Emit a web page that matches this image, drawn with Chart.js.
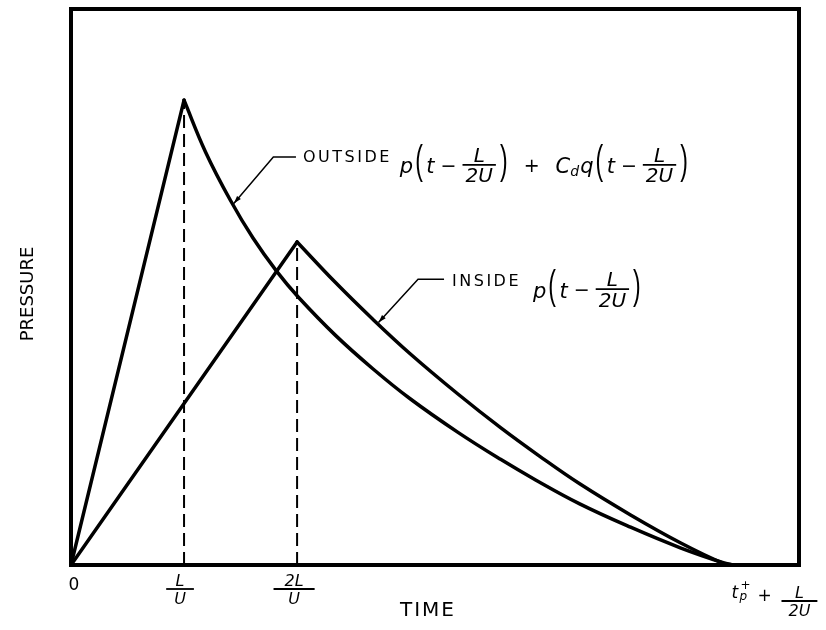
<!DOCTYPE html>
<html>
<head>
<meta charset="utf-8">
<script src="https://cdn.jsdelivr.net/npm/chart.js@4"></script>
<style>
  html, body { margin: 0; padding: 0; background: #fff; }
</style>
</head>
<body>
<canvas id="myChart" width="826" height="630"></canvas>
<script>
// time in units of L/U, pressure in percent of the frame height
const outsideX = [0, 1, 1.19, 1.41, 1.61, 1.82, 2.01, 2.34, 2.67, 3.0, 3.42, 3.80, 4.11, 4.50, 4.95, 5.39, 5.77, 5.86];
const outsideY = [0, 83.6, 74.3, 65.6, 58.8, 52.8, 48.2, 41.3, 35.3, 29.9, 23.9, 19.0, 15.3, 11.0, 6.8, 3.1, 0.4, 0];
const insideX = [0, 2.0, 2.34, 2.67, 3.0, 3.42, 3.80, 4.15, 4.50, 4.95, 5.39, 5.77, 5.86];
const insideY = [0, 58.1, 50.8, 44.2, 38.0, 30.8, 24.7, 19.5, 14.6, 9.0, 4.0, 0.3, 0];
const outsidePeak = 1; // index of the peak
const insidePeak = 1;

const xMax = 6.44;
const yMax = 100;
const tickValues = [0, 1, 2, 5.86];
const tickLabels = ['0', ['L', 'U'], ['2L', 'U'], ['t', 'L', '2U']];

// leader lines: tip on the curve, knee, end near the text
const outsideLeader = [[1.44, 65.0], [1.79, 73.4], [1.99, 73.4]];
const insideLeader = [[2.72, 43.6], [3.07, 51.4], [3.30, 51.4]];

const FONT = '"DejaVu Sans", sans-serif';

function pts(xs, ys, from, to) {
    let out = [];
    for (let i = from; i <= to; i++) out.push({x: xs[i], y: ys[i]});
    return out;
}

function curve(data, smooth) {
    return {
        data: data,
        showLine: true,
        borderColor: '#000',
        borderWidth: 3.5,
        borderCapStyle: 'round',
        borderJoinStyle: 'round',
        pointRadius: 0,
        tension: smooth ? 0.4 : 0
    };
}

function dashLine(xv, top) {
    return {
        data: [{x: xv, y: 0}, {x: xv, y: top}],
        showLine: true,
        borderColor: '#000',
        borderWidth: 2,
        borderDash: [13, 6],
        pointRadius: 0
    };
}

function fracWidth(ctx, num, den, size, pad) {
    ctx.font = `italic ${size}px ${FONT}`;
    return Math.max(ctx.measureText(num).width, ctx.measureText(den).width) + pad * 2;
}

function drawFrac(ctx, num, den, cx, barY, size, pad) {
    let w = fracWidth(ctx, num, den, size, pad);
    ctx.lineWidth = 1.8;
    ctx.beginPath();
    ctx.moveTo(cx - w / 2, barY);
    ctx.lineTo(cx + w / 2, barY);
    ctx.stroke();
    ctx.textAlign = 'center';
    ctx.textBaseline = 'alphabetic';
    ctx.fillText(num, cx, barY - 3);
    ctx.fillText(den, cx, barY + 3 + size * 0.73);
    return w;
}

// items: strings are italic letters, arrays are fractions, numbers are gaps,
// '(' ')' are tall parentheses, '_x' is a subscript, '+' '-' are operators
function drawMath(ctx, items, x, axis, size) {
    for (const it of items) {
        ctx.textAlign = 'left';
        ctx.textBaseline = 'alphabetic';
        if (typeof it === 'number') {
            x += it;
        } else if (Array.isArray(it)) {
            let w = fracWidth(ctx, it[0], it[1], size - 1, 3);
            drawFrac(ctx, it[0], it[1], x + w / 2, axis, size - 1, 3);
            x += w;
        } else if (it === '(' || it === ')') {
            ctx.save();
            ctx.font = `${Math.round(size * 1.1)}px "Liberation Sans", sans-serif`;
            ctx.translate(x, axis - 2);
            ctx.scale(1, 1.8);
            ctx.textBaseline = 'middle';
            ctx.fillText(it, 0, 0);
            ctx.restore();
            x += ctx.measureText(it).width;
        } else if (it === '+' || it === '-') {
            ctx.font = `${size - 2}px ${FONT}`;
            let s = it === '-' ? '\u2212' : '+';
            ctx.fillText(s, x, axis + size * 0.33);
            x += ctx.measureText(s).width;
        } else if (it.startsWith('_')) {
            ctx.font = `italic ${Math.round(size * 0.65)}px ${FONT}`;
            ctx.fillText(it.slice(1), x, axis + size * 0.55);
            x += ctx.measureText(it.slice(1)).width + 1;
        } else {
            ctx.font = `italic ${size}px ${FONT}`;
            ctx.fillText(it, x, axis + size * 0.4);
            x += ctx.measureText(it).width;
        }
    }
    return x;
}

function drawLeader(ctx, xs, ys, path) {
    let p = path.map(q => [xs.getPixelForValue(q[0]), ys.getPixelForValue(q[1])]);
    ctx.lineWidth = 1.5;
    ctx.beginPath();
    ctx.moveTo(p[0][0], p[0][1]);
    for (let i = 1; i < p.length; i++) ctx.lineTo(p[i][0], p[i][1]);
    ctx.stroke();
    // arrow head at the tip
    let dx = p[0][0] - p[1][0], dy = p[0][1] - p[1][1];
    let len = Math.hypot(dx, dy);
    dx /= len; dy /= len;
    let bx = p[0][0] - dx * 8, by = p[0][1] - dy * 8;
    ctx.beginPath();
    ctx.moveTo(p[0][0], p[0][1]);
    ctx.lineTo(bx - dy * 2.5, by + dx * 2.5);
    ctx.lineTo(bx + dy * 2.5, by - dx * 2.5);
    ctx.closePath();
    ctx.fill();
    return p[p.length - 1];
}

const decorations = {
    id: 'decorations',
    afterDatasetsDraw(chart) {
        const ctx = chart.ctx;
        const a = chart.chartArea;
        const xs = chart.scales.x, ys = chart.scales.y;
        ctx.save();
        ctx.fillStyle = '#000';
        ctx.strokeStyle = '#000';

        // frame
        ctx.lineWidth = 4;
        ctx.strokeRect(a.left, a.top, a.right - a.left, a.bottom - a.top);

        // x tick labels
        let b = a.bottom;
        ctx.font = `17px ${FONT}`;
        ctx.textAlign = 'center';
        ctx.textBaseline = 'middle';
        ctx.fillText(tickLabels[0], xs.getPixelForValue(tickValues[0]) + 3, b + 21);
        drawFrac(ctx, tickLabels[1][0], tickLabels[1][1], xs.getPixelForValue(tickValues[1]) - 4, b + 24, 16, 8);
        drawFrac(ctx, tickLabels[2][0], tickLabels[2][1], xs.getPixelForValue(tickValues[2]) - 3, b + 24, 16, 11);
        let ex = xs.getPixelForValue(tickValues[3]) - 3;
        ctx.font = `italic 17px ${FONT}`;
        ctx.textAlign = 'left';
        ctx.textBaseline = 'alphabetic';
        ctx.fillText(tickLabels[3][0], ex + 1, b + 33);
        ctx.font = `12px ${FONT}`;
        ctx.fillText('+', ex + 10, b + 24);
        ctx.font = `italic 12px ${FONT}`;
        ctx.fillText('p', ex + 9, b + 35);
        ctx.font = `17px ${FONT}`;
        ctx.fillText('+', ex + 27, b + 36);
        drawFrac(ctx, tickLabels[3][1], tickLabels[3][2], ex + 69, b + 36, 16, 7);

        // axis titles
        ctx.font = `20px ${FONT}`;
        ctx.letterSpacing = '2px';
        ctx.textAlign = 'center';
        ctx.textBaseline = 'middle';
        ctx.fillText('TIME', (a.left + a.right) / 2 - 7, b + 46);
        ctx.letterSpacing = '0px';
        ctx.font = `18px ${FONT}`;
        ctx.save();
        ctx.translate(28, (a.top + a.bottom) / 2 + 7);
        ctx.rotate(-Math.PI / 2);
        ctx.fillText('PRESSURE', 0, 0);
        ctx.restore();

        // curve annotations
        let end = drawLeader(ctx, xs, ys, outsideLeader);
        ctx.font = `16px ${FONT}`;
        ctx.letterSpacing = '2.5px';
        ctx.textAlign = 'left';
        ctx.textBaseline = 'middle';
        ctx.fillText('OUTSIDE', end[0] + 7, end[1] + 1);
        let mx = end[0] + 7 + ctx.measureText('OUTSIDE').width + 8;
        ctx.letterSpacing = '0px';
        drawMath(ctx, ['p', 2, '(', 3, 't', 6, '-', 6, ['L', '2U'], 4, ')', 16, '+', 16,
            'C', '_d', 'q', 2, '(', 3, 't', 6, '-', 6, ['L', '2U'], 4, ')'], mx, end[1] + 8, 21);

        end = drawLeader(ctx, xs, ys, insideLeader);
        ctx.font = `16px ${FONT}`;
        ctx.letterSpacing = '2.5px';
        ctx.textAlign = 'left';
        ctx.textBaseline = 'middle';
        ctx.fillText('INSIDE', end[0] + 8, end[1] + 3);
        mx = end[0] + 8 + ctx.measureText('INSIDE').width + 12;
        ctx.letterSpacing = '0px';
        drawMath(ctx, ['p', 2, '(', 3, 't', 6, '-', 6, ['L', '2U'], 4, ')'], mx, end[1] + 10, 21);

        ctx.restore();
    }
};

const ctx = document.getElementById('myChart').getContext('2d');
const chart = new Chart(ctx, {
    type: 'scatter',
    data: {
        datasets: [
            curve(pts(outsideX, outsideY, 0, outsidePeak), false),
            curve(pts(outsideX, outsideY, outsidePeak, outsideX.length - 1), true),
            curve(pts(insideX, insideY, 0, insidePeak), false),
            curve(pts(insideX, insideY, insidePeak, insideX.length - 1), true),
            dashLine(outsideX[outsidePeak], outsideY[outsidePeak]),
            dashLine(insideX[insidePeak], insideY[insidePeak])
        ]
    },
    options: {
        responsive: false,
        animation: false,
        layout: { padding: { left: 71, right: 27, top: 9, bottom: 65 } },
        plugins: { legend: { display: false }, tooltip: { enabled: false } },
        scales: {
            x: { type: 'linear', min: 0, max: xMax, display: false },
            y: { type: 'linear', min: 0, max: yMax, display: false }
        }
    },
    plugins: [decorations]
});
</script>
</body>
</html>
